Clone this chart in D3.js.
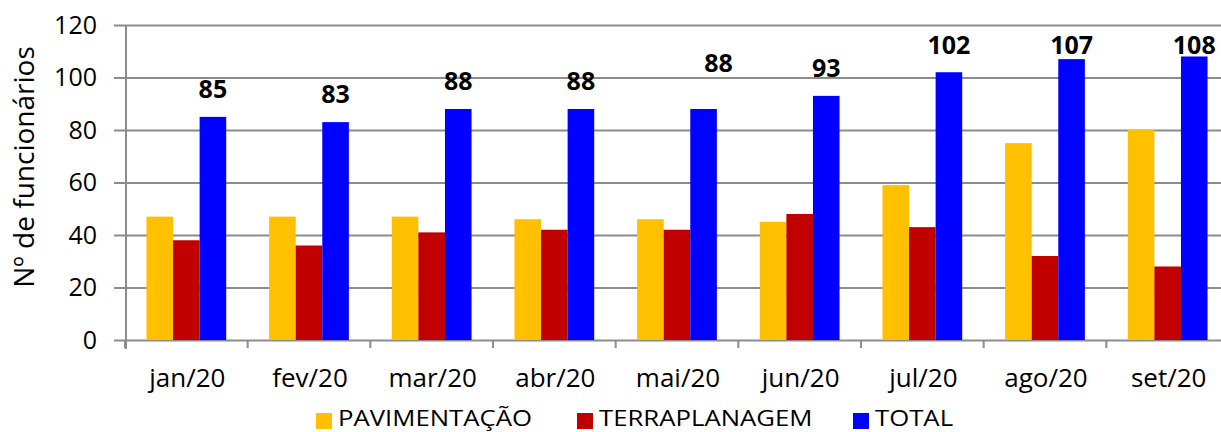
<!DOCTYPE html>
<html>
<head>
<meta charset="utf-8">
<script src="https://cdn.jsdelivr.net/npm/d3@7"></script>
<style>
  body { margin: 0; background: #fff; }
  svg { display: block; font-family: 'Open Sans', 'Noto Sans', sans-serif; }
</style>
</head>
<body>
<svg id="chart" width="1221" height="432"></svg>
<script>
/* global d3 */
const months = ['jan/20', 'fev/20', 'mar/20', 'abr/20', 'mai/20', 'jun/20', 'jul/20', 'ago/20', 'set/20'];
const pavimentacao = [47, 47, 47, 46, 46, 45, 59, 75, 80];
const terraplanagem = [38, 36, 41, 42, 42, 48, 43, 32, 28];
const total = [85, 83, 88, 88, 88, 93, 102, 107, 108];
const seriesNames = ['PAVIMENTAÇÃO', 'TERRAPLANAGEM', 'TOTAL'];
const yTicks = [0, 20, 40, 60, 80, 100, 120];

const colors = { 'PAVIMENTAÇÃO': '#FFC000', 'TERRAPLANAGEM': '#C00000', 'TOTAL': '#0000FF' };
// label moved by hand in the original chart
const labelNudge = { 'mai/20': [15, -18] };

const svg = d3.select('#chart');
const plotLeft = 125, plotRight = 1229, plotTop = 25, plotBottom = 340;

const x = d3.scaleBand().domain(months).range([plotLeft, plotRight])
  .paddingInner(0.35).paddingOuter(0.175);
const xs = d3.scaleBand().domain(seriesNames).range([0, x.bandwidth()]);
const y = d3.scaleLinear().domain([0, 120]).range([plotBottom, plotTop]);

// gridlines + y axis
const yAxis = d3.axisLeft(y).tickValues(yTicks).tickSize(0).tickFormat(d3.format('d'));
const gy = svg.append('g').attr('transform', `translate(${plotLeft},0)`).call(yAxis);
gy.select('.domain').remove();
gy.selectAll('.tick line').attr('x1', -11).attr('x2', plotRight - plotLeft)
  .attr('stroke', '#8c8c8c').attr('stroke-width', 2);
gy.selectAll('.tick text').attr('font-size', 25).attr('fill', '#000')
  .attr('font-family', "'Open Sans', sans-serif").attr('x', -28);

svg.append('line').attr('x1', plotLeft + 1).attr('x2', plotLeft + 1)
  .attr('y1', plotTop).attr('y2', plotBottom + 9)
  .attr('stroke', '#8c8c8c').attr('stroke-width', 2);

// x ticks at category boundaries
const step = x.step();
const x0 = x(months[0]) - step * x.paddingOuter();
svg.append('g').selectAll('line').data(d3.range(months.length + 1)).join('line')
  .attr('x1', (i) => x0 + i * step).attr('x2', (i) => x0 + i * step)
  .attr('y1', plotBottom).attr('y2', plotBottom + 8)
  .attr('stroke', '#8c8c8c').attr('stroke-width', 2);

// x labels
svg.append('g').selectAll('text').data(months).join('text')
  .attr('x', (d) => x(d) + x.bandwidth() / 2 + 1)
  .attr('y', 387)
  .attr('text-anchor', 'middle')
  .attr('font-size', 26)
  .text((d) => d);

// bars
const rows = months.map((m, i) => ({
  month: m,
  values: [
    { name: 'PAVIMENTAÇÃO', value: pavimentacao[i] },
    { name: 'TERRAPLANAGEM', value: terraplanagem[i] },
    { name: 'TOTAL', value: total[i] },
  ],
}));

const groups = svg.append('g').selectAll('g').data(rows).join('g')
  .attr('transform', (d) => `translate(${x(d.month)},0)`);
groups.selectAll('rect').data((d) => d.values).join('rect')
  .attr('x', (d) => xs(d.name))
  .attr('width', xs.bandwidth())
  .attr('y', (d) => y(d.value))
  .attr('height', (d) => y(0) - y(d.value))
  .attr('fill', (d) => colors[d.name]);

// data labels on total
svg.append('g').selectAll('text').data(months).join('text')
  .attr('x', (d) => {
    let n = labelNudge[d] || [0, 0];
    return x(d) + xs('TOTAL') + xs.bandwidth() / 2 + n[0];
  })
  .attr('y', (d, i) => {
    let n = labelNudge[d] || [0, 0];
    let cy = Math.max(y(total[i]) - 28, 45);
    return cy + 9 + n[1];
  })
  .attr('text-anchor', 'middle')
  .attr('font-size', 25)
  .attr('font-weight', 'bold')
  .text((d, i) => total[i]);

// y title
svg.append('text')
  .attr('transform', 'translate(34,167) rotate(-90)')
  .attr('text-anchor', 'middle')
  .attr('font-size', 28)
  .text('Nº de funcionários');

// legend
const legendX = [316, 577, 853];
const leg = svg.append('g').selectAll('g').data(seriesNames).join('g')
  .attr('transform', (d, i) => `translate(${legendX[i]},413)`);
leg.append('rect').attr('width', 16).attr('height', 16).attr('fill', (d) => colors[d]);
leg.append('text')
  .attr('transform', 'translate(22,13) scale(1.17,1)')
  .attr('font-size', 22)
  .text((d) => d);
</script>
</body>
</html>
